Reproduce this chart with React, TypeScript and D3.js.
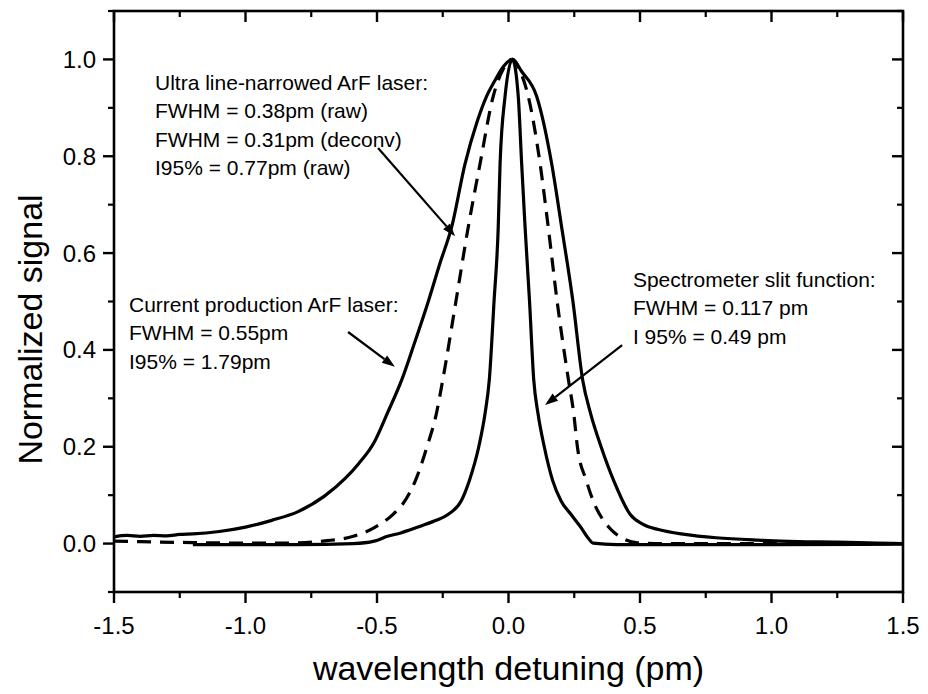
import React from 'react';
import * as d3 from 'd3';

// ---- data ----
const xMajorTicks = [-1.5, -1.0, -0.5, 0.0, 0.5, 1.0, 1.5];
const xMinorTicks = [-1.25, -0.75, -0.25, 0.25, 0.75, 1.25];
const yMajorTicks = [0.0, 0.2, 0.4, 0.6, 0.8, 1.0];
const yMinorTicks = [-0.1, 0.1, 0.3, 0.5, 0.7, 0.9, 1.1];

// Current production ArF laser (wide solid)
const currentX = [-1.5, -1.45, -1.4, -1.35, -1.3, -1.25, -1.2, -1.1, -1.0, -0.9, -0.8, -0.7, -0.62, -0.57, -0.51, -0.46, -0.406, -0.36, -0.305, -0.26, -0.216, -0.165, -0.12, -0.083, -0.051, -0.02, 0.015, 0.05, 0.107, 0.164, 0.202, 0.245, 0.282, 0.312, 0.352, 0.4, 0.463, 0.51, 0.57, 0.67, 0.79, 0.95, 1.1, 1.25, 1.4, 1.5];
const currentY = [0.014, 0.017, 0.015, 0.017, 0.016, 0.019, 0.02, 0.025, 0.034, 0.048, 0.066, 0.098, 0.135, 0.165, 0.21, 0.27, 0.338, 0.41, 0.5, 0.58, 0.654, 0.785, 0.87, 0.924, 0.957, 0.985, 1.0, 0.975, 0.924, 0.785, 0.654, 0.5, 0.338, 0.269, 0.2, 0.13, 0.06, 0.04, 0.029, 0.019, 0.012, 0.007, 0.004, 0.003, 0.001, 0.0];

// Ultra line-narrowed ArF laser (dashed)
const ultraX = [-1.5, -1.4, -1.2, -1.0, -0.85, -0.69, -0.59, -0.51, -0.44, -0.394, -0.354, -0.31, -0.274, -0.25, -0.2, -0.153, -0.108, -0.058, -0.02, 0.015, 0.045, 0.075, 0.12, 0.151, 0.185, 0.228, 0.248, 0.262, 0.296, 0.322, 0.362, 0.39, 0.43, 0.49, 0.6, 1.0, 1.5];
const ultraY = [0.005, 0.004, 0.002, 0.001, 0.001, 0.006, 0.015, 0.033, 0.06, 0.088, 0.13, 0.2, 0.269, 0.338, 0.5, 0.654, 0.785, 0.924, 0.98, 1.0, 0.975, 0.924, 0.785, 0.654, 0.5, 0.338, 0.269, 0.2, 0.13, 0.088, 0.047, 0.029, 0.012, 0.0015, 0.0, 0.0, 0.0];

// Spectrometer slit function (narrow solid)
const slitX = [-1.2, -0.8, -0.59, -0.51, -0.46, -0.41, -0.35, -0.28, -0.23, -0.18, -0.149, -0.113, -0.089, -0.073, -0.055, -0.039, -0.032, -0.013, 0.015, 0.037, 0.05, 0.063, 0.08, 0.096, 0.112, 0.136, 0.168, 0.2, 0.238, 0.276, 0.302, 0.322, 0.41, 1.0, 1.5];
const slitY = [-0.002, -0.002, 0.0, 0.005, 0.015, 0.022, 0.033, 0.047, 0.06, 0.088, 0.13, 0.2, 0.269, 0.338, 0.5, 0.654, 0.785, 0.924, 1.0, 0.924, 0.785, 0.654, 0.5, 0.338, 0.269, 0.2, 0.13, 0.088, 0.06, 0.033, 0.012, 0.001, -0.002, -0.002, -0.001];

// Annotation texts
const ultraLabel = ['Ultra line-narrowed ArF laser:', 'FWHM = 0.38pm (raw)', 'FWHM = 0.31pm (deconv)', 'I95% = 0.77pm (raw)'];
const currentLabel = ['Current production ArF laser:', 'FWHM = 0.55pm', 'I95% = 1.79pm'];
const slitLabel = ['Spectrometer slit function:', 'FWHM = 0.117 pm', 'I 95% = 0.49 pm'];

const W = 928;
const H = 694;
const margin = { left: 114, right: 25, top: 11, bottom: 102 };
const FONT = '"Liberation Sans", Arial, Helvetica, sans-serif';

export default function App() {
  const x = d3.scaleLinear().domain([-1.5, 1.5]).range([margin.left, W - margin.right]);
  const y = d3.scaleLinear().domain([-0.1, 1.1]).range([H - margin.bottom, margin.top]);
  const x0 = margin.left, x1 = W - margin.right, y0 = H - margin.bottom, y1 = margin.top;

  const line = d3.line<[number, number]>()
    .x(d => x(d[0]))
    .y(d => y(d[1]))
    .curve(d3.curveMonotoneX);

  const pts = (xs: number[], ys: number[]) => xs.map((v, i) => [v, ys[i]] as [number, number]);
  const fmt = (v: number) => d3.format('.1f')(v).replace('\u2212', '-');

  const arrow = (tx: number, ty: number, hx: number, hy: number, key: string) => {
    const X1 = x(tx), Y1 = y(ty), X2 = x(hx), Y2 = y(hy);
    const ang = Math.atan2(Y2 - Y1, X2 - X1);
    const len = 13, half = 4.5;
    const bx = X2 - len * Math.cos(ang), by = Y2 - len * Math.sin(ang);
    const p1 = [bx + half * Math.sin(ang), by - half * Math.cos(ang)];
    const p2 = [bx - half * Math.sin(ang), by + half * Math.cos(ang)];
    return (
      <g key={key}>
        <line x1={X1} y1={Y1} x2={bx} y2={by} stroke="#000" strokeWidth={2.2} />
        <polygon points={`${X2},${Y2} ${p1[0]},${p1[1]} ${p2[0]},${p2[1]}`} fill="#000" />
      </g>
    );
  };

  const textBlock = (lines: string[], px: number, py: number, key: string) => (
    <text key={key} x={x(px)} y={y(py)} fontFamily={FONT} fontSize={21} fill="#000">
      {lines.map((l, i) => (
        <tspan key={i} x={x(px)} dy={i === 0 ? 0 : 28.3}>{l}</tspan>
      ))}
    </text>
  );

  return (
    <svg width={W} height={H} style={{ position: 'absolute', left: 0, top: 0, background: '#fff' }}>
      <rect x={0} y={0} width={W} height={H} fill="#fff" />
      {/* curves */}
      <path d={line(pts(currentX, currentY)) || ''} fill="none" stroke="#000" strokeWidth={3.2} strokeLinejoin="round" />
      <path d={line(pts(ultraX, ultraY)) || ''} fill="none" stroke="#000" strokeWidth={3.2} strokeDasharray="14,9" />
      <path d={line(pts(slitX, slitY)) || ''} fill="none" stroke="#000" strokeWidth={3.2} strokeLinejoin="round" />

      {/* frame */}
      <rect x={x0} y={y1} width={x1 - x0} height={y0 - y1} fill="none" stroke="#000" strokeWidth={2.6} />

      {/* x ticks */}
      {xMajorTicks.map(t => (
        <g key={'xm' + t}>
          <line x1={x(t)} x2={x(t)} y1={y0} y2={y0 + 11} stroke="#000" strokeWidth={2.4} />
          <line x1={x(t)} x2={x(t)} y1={y1} y2={y1 + 11} stroke="#000" strokeWidth={2.4} />
          <text x={x(t)} y={y0 + 42} textAnchor="middle" fontFamily={FONT} fontSize={24}>{fmt(t)}</text>
        </g>
      ))}
      {xMinorTicks.map(t => (
        <g key={'xn' + t}>
          <line x1={x(t)} x2={x(t)} y1={y0} y2={y0 + 6} stroke="#000" strokeWidth={2.2} />
          <line x1={x(t)} x2={x(t)} y1={y1} y2={y1 + 6} stroke="#000" strokeWidth={2.2} />
        </g>
      ))}

      {/* y ticks */}
      {yMajorTicks.map(t => (
        <g key={'ym' + t}>
          <line x1={x0 - 11} x2={x0} y1={y(t)} y2={y(t)} stroke="#000" strokeWidth={2.4} />
          <line x1={x1 - 11} x2={x1} y1={y(t)} y2={y(t)} stroke="#000" strokeWidth={2.4} />
          <text x={x0 - 18} y={y(t) + 8.5} textAnchor="end" fontFamily={FONT} fontSize={24}>{fmt(t)}</text>
        </g>
      ))}
      {yMinorTicks.map(t => (
        <g key={'yn' + t}>
          <line x1={x0 - 6} x2={x0} y1={y(t)} y2={y(t)} stroke="#000" strokeWidth={2.2} />
          <line x1={x1 - 6} x2={x1} y1={y(t)} y2={y(t)} stroke="#000" strokeWidth={2.2} />
        </g>
      ))}

      {/* axis titles */}
      <text x={(x0 + x1) / 2} y={680} textAnchor="middle" fontFamily={FONT} fontSize={34}>wavelength detuning (pm)</text>
      <text transform={`translate(42, ${(y0 + y1) / 2 + 28}) rotate(-90)`} textAnchor="middle" fontFamily={FONT} fontSize={34}>Normalized signal</text>

      {/* annotations */}
      {textBlock(ultraLabel, -1.344, 0.937, 'ul')}
      {textBlock(currentLabel, -1.443, 0.478, 'cl')}
      {textBlock(slitLabel, 0.473, 0.530, 'sl')}
      {arrow(-0.496, 0.817, -0.203, 0.635, 'a1')}
      {arrow(-0.610, 0.437, -0.432, 0.365, 'a2')}
      {arrow(0.432, 0.410, 0.139, 0.286, 'a3')}
    </svg>
  );
}
